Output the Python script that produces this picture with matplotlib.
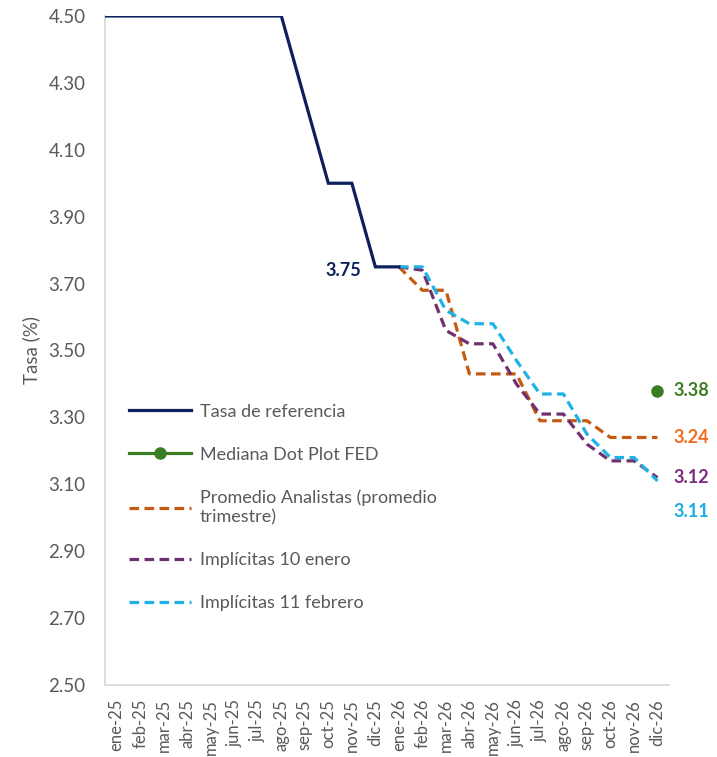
import matplotlib.pyplot as plt
import numpy as np

plt.rcParams["font.family"] = ["Lato", "DejaVu Sans"]

meses = ["ene-25", "feb-25", "mar-25", "abr-25", "may-25", "jun-25", "jul-25",
         "ago-25", "sep-25", "oct-25", "nov-25", "dic-25", "ene-26", "feb-26",
         "mar-26", "abr-26", "may-26", "jun-26", "jul-26", "ago-26", "sep-26",
         "oct-26", "nov-26", "dic-26"]

# tasa de referencia (empieza en dic-24, fuera del eje)
tasa_ref = [4.50, 4.50, 4.50, 4.50, 4.50, 4.50, 4.50, 4.50, 4.50, 4.25, 4.00,
            4.00, 3.75, 3.75]
promedio_analistas = [3.75, 3.68, 3.68, 3.43, 3.43, 3.43, 3.29, 3.29, 3.29,
                      3.24, 3.24, 3.24]
implicitas_enero = [3.75, 3.74, 3.56, 3.52, 3.52, 3.40, 3.31, 3.31, 3.22,
                    3.17, 3.17, 3.12]
implicitas_febrero = [3.75, 3.75, 3.62, 3.58, 3.58, 3.47, 3.37, 3.37, 3.25,
                      3.18, 3.18, 3.11]
dot_plot = [3.38]

c_ref = "#0D1F5C"
c_dot = "#3A7D22"
c_ana = "#C55A11"
c_ene = "#70306F"
c_feb = "#1FB2E8"
gris = "#595959"

x = np.arange(len(meses))
x_ref = np.arange(-1, len(tasa_ref) - 1)
x_proy = x[12:]

fig = plt.figure(figsize=(7.17, 7.57), dpi=100)
ax = fig.add_axes([0.1464, 0.0951, 0.787, 0.8838])

dash = (0, (3.0, 1.7))
ax.plot(x_ref, tasa_ref, color=c_ref, lw=2.3, label="Tasa de referencia",
        solid_joinstyle="miter", zorder=5)
ax.plot(x[-1:], dot_plot, "-o", color=c_dot, lw=2.3, ms=8,
        label="Mediana Dot Plot FED", zorder=6)
ax.plot(x_proy, promedio_analistas, color=c_ana, lw=2.3, ls=dash,
        label="Promedio Analistas (promedio\ntrimestre)", zorder=3)
ax.plot(x_proy, implicitas_enero, color=c_ene, lw=2.3, ls=dash,
        label="Implícitas 10 enero", zorder=3)
ax.plot(x_proy, implicitas_febrero, color=c_feb, lw=2.3, ls=dash,
        label="Implícitas 11 febrero", zorder=4)

ax.set_xlim(-0.5, len(meses) - 0.5)
ax.set_ylim(2.5, 4.5)
ax.set_yticks(np.arange(2.5, 4.51, 0.2))
ax.yaxis.set_major_formatter(plt.FormatStrFormatter("%.2f"))
ax.set_xticks(x)
ax.set_xticklabels(meses, rotation=90)
ax.tick_params(axis="both", length=0, colors=gris)
ax.tick_params(axis="y", pad=14, labelsize=13.5)
ax.tick_params(axis="x", pad=10, labelsize=12)
ax.set_ylabel("Tasa (%)", color=gris, fontsize=13.5, labelpad=6)

for lado in ["top", "right"]:
    ax.spines[lado].set_visible(False)
for lado in ["left", "bottom"]:
    ax.spines[lado].set_color("#D9D9D9")
    ax.spines[lado].set_linewidth(1.3)

# etiquetas de datos
ax.annotate(f"{tasa_ref[12]:.2f}", (11, tasa_ref[12]), xytext=(-32, -4),
            textcoords="offset pixels", ha="center", va="center",
            color=c_ref, fontsize=13, fontweight="bold")
finales = [
    (dot_plot[-1], c_dot, 0),
    (promedio_analistas[-1], "#F26B1D", 0),
    (implicitas_enero[-1], "#7B2C7F", 0),
    (implicitas_febrero[-1], "#1CADE4", -31),
]
for valor, color, dy in finales:
    ax.annotate(f"{valor:.2f}", (x[-1], valor), xytext=(34, dy),
                textcoords="offset pixels", ha="center", va="center",
                color=color, fontsize=13, fontweight="bold",
                annotation_clip=False)

leg = ax.legend(loc="upper left", bbox_to_anchor=(0.043, 0.4205),
                frameon=False, fontsize=13, labelcolor=gris,
                handlelength=3.4, handletextpad=0.5, labelspacing=1.5,
                borderpad=0, borderaxespad=0)

fig.savefig("out.png", dpi=100)
